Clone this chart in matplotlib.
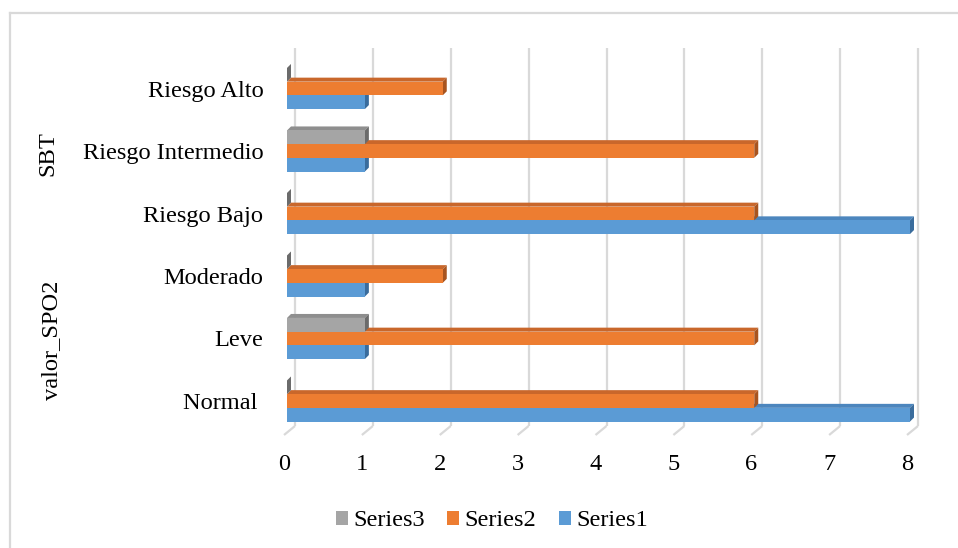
import matplotlib
matplotlib.use("Agg")
import matplotlib.pyplot as plt
import matplotlib.transforms as mtransforms
from matplotlib.patches import Polygon, Patch
from matplotlib.lines import Line2D
import numpy as np

# ---- data -------------------------------------------------------------
categories = ["Normal ", "Leve", "Moderado", "Riesgo Bajo", "Riesgo Intermedio", "Riesgo Alto"]
groups = ["valor_SPO2", "SBT"]
series_names = ["Series1", "Series2", "Series3"]
series1 = [8, 1, 1, 8, 1, 1]
series2 = [6, 6, 2, 6, 6, 2]
series3 = [0, 1, 0, 0, 1, 0]
x_ticks = [0, 1, 2, 3, 4, 5, 6, 7, 8]

# ---- styling ----------------------------------------------------------
FONT = ["Liberation Serif", "DejaVu Serif"]
FS = 17.6
front_cols = ["#5B9BD5", "#ED7D31", "#A5A5A5"]
top_cols = ["#4C86BE", "#C9672B", "#8E8E8E"]
side_cols = ["#3A6C9C", "#A8541F", "#6B6B6B"]
GRID = "#D9D9D9"

W, H = 958, 548
fig = plt.figure(figsize=(W / 100, H / 100), dpi=100)
fig.patch.set_facecolor("white")

# plot area in pixels (from top): value 0 at x=287, value 8 at x=910
x0_px, x1_px = 287, 910
row_px = 62.5            # spacing between category rows
c0_px = 401              # centre of first row (from top)
y_lo = c0_px + 0.5 * row_px
y_hi = c0_px - 5.5 * row_px
ax = fig.add_axes([x0_px / W, (H - y_lo) / H, (x1_px - x0_px) / W, (y_lo - y_hi) / H])
ax.set_xlim(0, 8)
ax.set_ylim(-0.5, 5.5)
for sp in ax.spines.values():
    sp.set_visible(False)
ax.set_facecolor("none")

ux = 8 / (x1_px - x0_px)   # data units per pixel (x)
uy = 1 / row_px             # data units per pixel (y)

# 3D wall / floor geometry (pixels)
back_dx = 8
front_dx = -3
wall_top = (c0_px - 48) * uy
floor_back = (c0_px - 426) * uy
floor_front = (c0_px - 435) * uy

for v in x_ticks:
    ax.plot([v + back_dx * ux] * 2, [floor_back, wall_top], color=GRID, lw=1.6,
            clip_on=False, zorder=0, solid_capstyle="butt")
    ax.plot([v + front_dx * ux, v + back_dx * ux], [floor_front, floor_back], color=GRID,
            lw=1.6, clip_on=False, zorder=0, solid_capstyle="butt")

# ---- 3D bars ----------------------------------------------------------
bar_h = 13.7 * uy
depth_x = 4 * ux
depth_y = 4 * uy
ypos = np.arange(len(categories))
all_series = [series1, series2, series3]
z = 2
for k, vals in enumerate(all_series):
    off = (k - 1) * bar_h
    for i, v in enumerate(vals):
        yb = ypos[i] + off - bar_h / 2
        yt = yb + bar_h
        top = Polygon([[0, yt], [v, yt], [v + depth_x, yt + depth_y], [depth_x, yt + depth_y]],
                      closed=True, facecolor=top_cols[k], edgecolor="none", zorder=z, clip_on=False)
        side = Polygon([[v, yb], [v + depth_x, yb + depth_y], [v + depth_x, yt + depth_y], [v, yt]],
                       closed=True, facecolor=side_cols[k], edgecolor="none", zorder=z, clip_on=False)
        ax.add_patch(top)
        ax.add_patch(side)
    ax.barh(ypos + off, vals, height=bar_h, color=front_cols[k], zorder=z + 0.5,
            linewidth=0, clip_on=False)
    z += 1

# ---- ticks ------------------------------------------------------------
ax.set_xticks(x_ticks)
ax.set_xticklabels([str(t) for t in x_ticks], fontfamily=FONT, fontsize=FS)
ax.set_yticks(ypos)
ax.set_yticklabels(categories, fontfamily=FONT, fontsize=FS)
ax.tick_params(axis="x", length=0, pad=16)
ax.tick_params(axis="y", length=0, pad=17)
shift = mtransforms.ScaledTranslation(-3 / 100, 0, fig.dpi_scale_trans)
for lab in ax.get_xticklabels():
    lab.set_transform(lab.get_transform() + shift)

# group labels
fig.text(48 / W, (H - 154) / H, groups[1], rotation=90, ha="center", va="center",
         fontfamily=FONT, fontsize=FS)
fig.text(52 / W, (H - 340) / H, groups[0], rotation=90, ha="center", va="center",
         fontfamily=FONT, fontsize=FS)

# ---- legend -----------------------------------------------------------
handles = [Patch(facecolor=front_cols[k], edgecolor="none", label=series_names[k]) for k in (2, 1, 0)]
fig.legend(handles=handles, loc="center", bbox_to_anchor=(492 / W, (H - 521) / H),
           ncol=3, frameon=False, prop={"family": FONT, "size": FS},
           handlelength=0.5, handleheight=0.5, handletextpad=0.22, columnspacing=0.9)

# chart border
fig.add_artist(Line2D([10 / W, 10 / W], [0, (H - 13) / H], color=GRID, lw=1.6))
fig.add_artist(Line2D([10 / W, 1], [(H - 13) / H, (H - 13) / H], color=GRID, lw=1.6))

fig.savefig("out.png", dpi=100, facecolor="white")
